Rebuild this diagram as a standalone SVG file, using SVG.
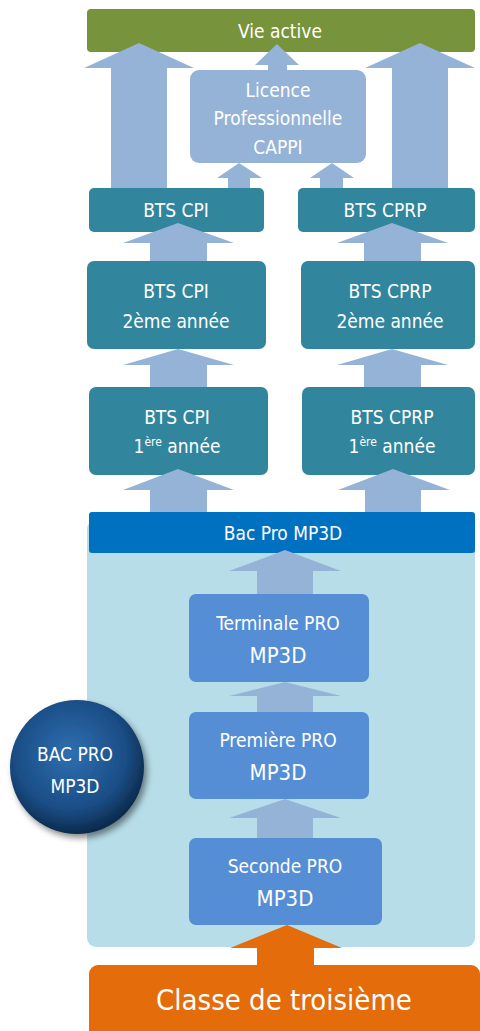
<svg xmlns="http://www.w3.org/2000/svg" width="480" height="1031" viewBox="0 0 480 1031">
<style>
text{font-family:"DejaVu Sans Condensed","DejaVu Sans",sans-serif;font-stretch:condensed;fill:#fff;text-anchor:middle}
.t{font-size:19px}
.b{font-size:22px}
.arrow{fill:#95B3D7}
.teal{fill:#31859C}
.mid{fill:#558ED5}
</style>
<defs>
<radialGradient id="sph" cx="0.45" cy="0.4" r="0.6">
<stop offset="0" stop-color="#2F6FB0"/>
<stop offset="0.7" stop-color="#1A4D85"/>
<stop offset="1" stop-color="#0C2A4D"/>
</radialGradient>
<filter id="sh" x="-20%" y="-20%" width="150%" height="150%">
<feDropShadow dx="3" dy="4" stdDeviation="3" flood-color="#000" flood-opacity="0.45"/>
</filter>
</defs>
<g id="panel"><rect x="87" y="520" width="388" height="427" rx="9" fill="#B7DDE8"/></g>
<g id="vie-active"><rect x="87" y="9" width="388" height="43" rx="4" fill="#77933C"/><text x="280" y="38" class="t">Vie active</text></g>
<g id="licence"><rect x="190" y="70" width="176" height="93" rx="9" fill="#95B3D7"/><text x="278" y="97" class="t">Licence</text><text x="278" y="125" class="t">Professionnelle</text><text x="278" y="154" class="t">CAPPI</text></g>
<g id="bts-cpi"><rect x="89" y="188" width="175" height="44" rx="5" class="teal"/><text x="176" y="217" class="t">BTS CPI</text></g>
<g id="bts-cprp"><rect x="298" y="188" width="177" height="44" rx="5" class="teal"/><text x="385" y="217" class="t">BTS CPRP</text></g>
<g id="bts-cpi-2"><rect x="87" y="261" width="179" height="88" rx="7" class="teal"/><text x="176" y="298" class="t">BTS CPI</text><text x="176" y="328" class="t">2ème année</text></g>
<g id="bts-cprp-2"><rect x="301" y="261" width="174" height="88" rx="7" class="teal"/><text x="390" y="298" class="t">BTS CPRP</text><text x="390" y="328" class="t">2ème année</text></g>
<g id="bts-cpi-1"><rect x="89" y="387" width="179" height="88" rx="7" class="teal"/><text x="177" y="424" class="t">BTS CPI</text><text x="177" y="453" class="t">1<tspan font-size="12" dy="-7">ère</tspan><tspan dy="7"> année</tspan></text></g>
<g id="bts-cprp-1"><rect x="302" y="387" width="173" height="88" rx="7" class="teal"/><text x="392" y="424" class="t">BTS CPRP</text><text x="392" y="453" class="t">1<tspan font-size="12" dy="-7">ère</tspan><tspan dy="7"> année</tspan></text></g>
<g id="bac-pro"><rect x="89" y="512" width="386" height="41" rx="3" fill="#0070C0"/><text x="283" y="540" class="t">Bac Pro MP3D</text></g>
<g id="terminale"><rect x="189" y="594" width="180" height="88" rx="7" class="mid"/><text x="278" y="630" class="t">Terminale PRO</text><text x="278" y="663" class="b">MP3D</text></g>
<g id="premiere"><rect x="189" y="712" width="180" height="87" rx="7" class="mid"/><text x="278" y="747" class="t">Première PRO</text><text x="278" y="780" class="b">MP3D</text></g>
<g id="seconde"><rect x="189" y="838" width="193" height="87" rx="7" class="mid"/><text x="285" y="873" class="t">Seconde PRO</text><text x="285" y="906" class="b">MP3D</text></g>
<g id="troisieme"><rect x="89" y="965" width="391" height="80" rx="9" fill="#E46C0A"/><text x="284" y="1010" style="font-size:29px">Classe de troisième</text></g>
<g id="bac-pro-sphere"><circle cx="77" cy="767" r="67" fill="url(#sph)" filter="url(#sh)"/><text x="75" y="761" class="t">BAC PRO</text><text x="75" y="793" class="t">MP3D</text></g>
<g id="connectors">
<polygon class="arrow" points="139,43 194,68 167,68 167,188 111,188 111,68 84,68"/>
<polygon class="arrow" points="420,43 475,68 448,68 448,188 392,188 392,68 365,68"/>
<polygon class="arrow" points="277,44 299,65 287,65 287,70 268,70 268,65 255,65"/>
<polygon class="arrow" points="239,163 262,178 250,178 250,188 228,188 228,178 217,178"/>
<polygon class="arrow" points="332,163 354,178 343,178 343,188 320,188 320,178 310,178"/>
<polygon class="arrow" points="178,223 234,243 207,243 207,261 150,261 150,243 123,243"/>
<polygon class="arrow" points="392,223 448,243 421,243 421,261 364,261 364,243 337,243"/>
<polygon class="arrow" points="178,349 234,365 207,365 207,387 150,387 150,365 123,365"/>
<polygon class="arrow" points="392,349 448,365 421,365 421,387 364,387 364,365 337,365"/>
<polygon class="arrow" points="178,469 234,490 207,490 207,512 150,512 150,490 123,490"/>
<polygon class="arrow" points="393,469 450,490 421,490 421,512 365,512 365,490 338,490"/>
<polygon class="arrow" points="285,550 341,571 313,571 313,594 257,594 257,571 229,571"/>
<polygon class="arrow" points="285,682 341,696 313,696 313,712 257,712 257,696 229,696"/>
<polygon class="arrow" points="285,799 341,818 313,818 313,838 257,838 257,818 229,818"/>
<polygon fill="#E46C0A" points="287,925 342,948 314,948 314,965 257,965 257,948 230,948"/>
</g>
</svg>
